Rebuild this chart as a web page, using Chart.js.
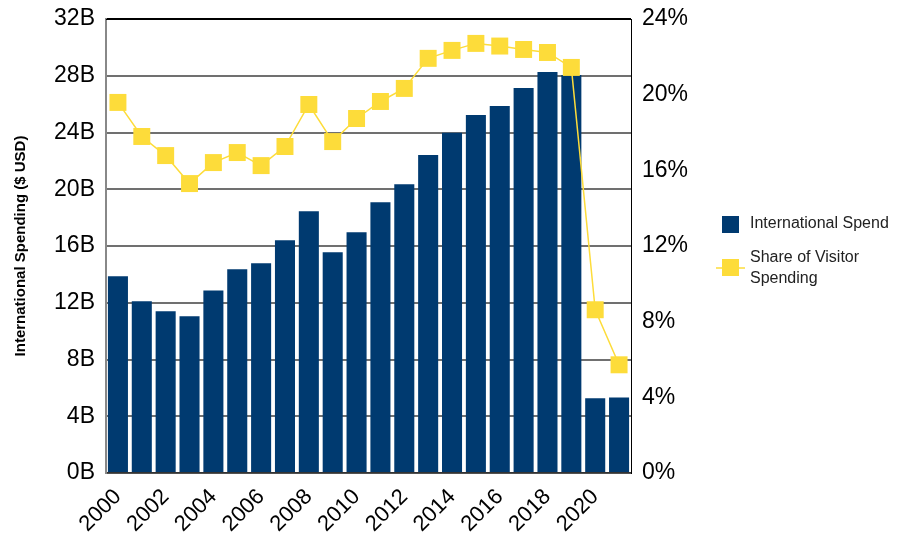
<!DOCTYPE html>
<html>
<head>
<meta charset="utf-8">
<script src="https://cdn.jsdelivr.net/npm/chart.js@4/dist/chart.umd.min.js"></script>
<style>
html,body{margin:0;padding:0;background:#fff;}
#wrap{width:907px;height:540px;position:relative;}
</style>
</head>
<body>
<div id="wrap"><canvas id="c" width="907" height="540"></canvas></div>
<script>
const years = ['2000','2001','2002','2003','2004','2005','2006','2007','2008','2009','2010',
  '2011','2012','2013','2014','2015','2016','2017','2018','2019','2020','2021'];
const internationalSpendB = [13.87,12.10,11.40,11.04,12.87,14.36,14.78,16.41,18.45,15.56,16.97,
  19.09,20.36,22.41,23.98,25.23,25.86,27.13,28.26,28.05,5.26,5.33];
const shareOfVisitorPct = [19.59,17.79,16.78,15.30,16.41,16.94,16.25,17.26,19.48,17.52,18.74,
  19.64,20.33,21.92,22.34,22.71,22.57,22.39,22.23,21.44,8.63,5.72];
const leftTicks = [0,4,8,12,16,20,24,28,32];
const rightTicks = [0,4,8,12,16,20,24];
const legendLines = [['International Spend'], ['Share of Visitor', 'Spending']];

const NAVY = '#003A70';
const YELLOW = '#FDDC3A';
const FONT = "'Liberation Sans', Arial, sans-serif";

const legendPlugin = {
  id: 'customLegend',
  afterDraw(chart) {
    const ctx = chart.ctx;
    ctx.save();
    ctx.fillStyle = NAVY;
    ctx.fillRect(722, 216, 17, 17);
    ctx.strokeStyle = YELLOW;
    ctx.lineWidth = 1.5;
    ctx.beginPath(); ctx.moveTo(716, 268); ctx.lineTo(745, 268); ctx.stroke();
    ctx.fillStyle = YELLOW;
    ctx.fillRect(722, 259, 17, 17);
    ctx.fillStyle = '#222';
    ctx.font = '16px ' + FONT;
    ctx.textBaseline = 'middle';
    ctx.textAlign = 'left';
    ctx.fillText(legendLines[0][0], 750, 224);
    ctx.fillText(legendLines[1][0], 750, 258);
    ctx.fillText(legendLines[1][1], 750, 279);
    // frame top & right
    const a = chart.chartArea;
    ctx.strokeStyle = '#000';
    ctx.lineWidth = 1;
    ctx.beginPath();
    ctx.moveTo(a.left, a.top + 0.5); ctx.lineTo(a.right + 0.5, a.top + 0.5);
    ctx.lineTo(a.right + 0.5, a.bottom);
    ctx.stroke();
    ctx.restore();
  }
};

new Chart(document.getElementById('c'), {
  data: {
    labels: years,
    datasets: [
      {
        type: 'line',
        label: 'Share of Visitor Spending',
        data: shareOfVisitorPct,
        yAxisID: 'y1',
        borderColor: YELLOW,
        borderWidth: 1.5,
        backgroundColor: YELLOW,
        pointStyle: 'rect',
        pointRadius: 12,
        pointBorderWidth: 0,
        pointBackgroundColor: YELLOW,
        tension: 0,
        order: 0
      },
      {
        type: 'bar',
        label: 'International Spend',
        data: internationalSpendB,
        yAxisID: 'y',
        backgroundColor: NAVY,
        categoryPercentage: 1,
        barPercentage: 0.84,
        order: 1
      }
    ]
  },
  options: {
    responsive: false,
    animation: false,
    layout: { padding: { top: 19, left: 0, right: 0, bottom: 0 } },
    plugins: { legend: { display: false }, tooltip: { enabled: false } },
    scales: {
      x: {
        offset: true,
        grid: { display: false, drawTicks: false },
        border: { display: true, color: '#333', width: 1.5 },
        ticks: {
          autoSkip: false,
          maxRotation: 45, minRotation: 45,
          padding: 11,
          color: '#000',
          font: { family: FONT, size: 22 },
          callback: function(v, i) { return i % 2 === 0 ? this.getLabelForValue(v) : ''; }
        },
        afterFit: s => { s.height = 67; }
      },
      y: {
        position: 'left',
        min: 0, max: 32,
        afterBuildTicks: s => { s.ticks = leftTicks.map(v => ({ value: v })); },
        grid: {
          color: ctx => ctx.tick && ctx.tick.value === 32 ? '#000' : '#707070',
          lineWidth: 2,
          drawTicks: false
        },
        border: { display: true, color: '#888', width: 2 },
        ticks: {
          padding: 11,
          color: '#000',
          font: { family: FONT, size: 23, lineHeight: 0.5 },
          callback: v => v + 'B'
        },
        title: {
          display: true,
          text: 'International Spending ($ USD)',
          color: '#000',
          font: { family: FONT, size: 15, weight: 'bold' },
          padding: { top: 12, bottom: 0 }
        },
        afterFit: s => { s.width = 106; }
      },
      y1: {
        position: 'right',
        min: 0, max: 24,
        afterBuildTicks: s => { s.ticks = rightTicks.map(v => ({ value: v })); },
        grid: { display: false, drawTicks: false },
        border: { display: true, color: '#000', width: 1 },
        ticks: {
          padding: 11,
          color: '#000',
          font: { family: FONT, size: 23, lineHeight: 0.5 },
          callback: v => v + '%'
        },
        afterFit: s => { s.width = 276; }
      }
    }
  },
  plugins: [legendPlugin]
});
</script>
</body>
</html>
